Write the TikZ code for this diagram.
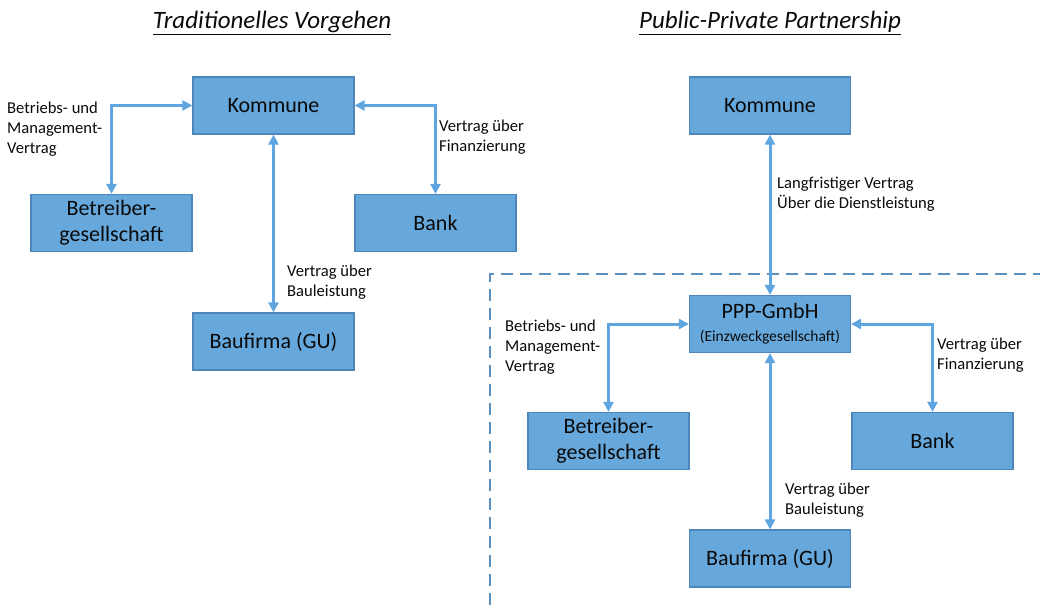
\documentclass[tikz,border=0pt]{standalone}
\usepackage{fontspec}
\setmainfont{Carlito}
\usetikzlibrary{arrows.meta}
\definecolor{boxfill}{HTML}{67A8DC}
\definecolor{boxdraw}{HTML}{4E86BC}
\definecolor{arrowc}{HTML}{5FA6E0}
\definecolor{dashc}{HTML}{5B8FBF}
\definecolor{txt}{HTML}{0A0A0A}
\tikzset{
  org/.style={draw=boxdraw, line width=1.2pt, fill=boxfill, minimum width=161pt, minimum height=57pt,
    inner sep=0pt, align=center, text=txt, font=\fontsize{22}{26}\selectfont},
  rel/.style={draw=arrowc, line width=3pt, {Triangle[length=10pt,width=10pt]}-{Triangle[length=10pt,width=10pt]}},
  lbl/.style={anchor=west, inner sep=0pt, align=left, text=txt, font=\fontsize{16.6}{20}\selectfont},
  ttl/.style={inner sep=0pt, text=txt, font=\fontsize{25}{29}\selectfont\itshape},
  frame/.style={draw=dashc, line width=1.4pt, dash pattern=on 12pt off 7pt}
}
\begin{document}
\begin{tikzpicture}[x=1pt,y=-1pt]
\useasboundingbox (0,0) rectangle (1040,612);
\clip (0,0) rectangle (1040,612);
% titles
\node[ttl] (t1) at (272,23) {\underline{Traditionelles Vorgehen}};
\node[ttl] (t2) at (770,23) {\underline{Public-Private Partnership}};
% left side
\node[org] (k1) at (273.5,105.5) {Kommune};
\node[org] (b1) at (111.5,223) {Betreiber-\\gesellschaft};
\node[org] (n1) at (435.5,223) {Bank};
\node[org] (f1) at (273.5,341.5) {Baufirma (GU)};
\draw[rel] (k1.west) -| (b1.north);
\draw[rel] (k1.east) -| (n1.north);
\draw[rel] (k1.south) -- (f1.north);
\node[lbl] (l1) at (7,129) {Betriebs- und\\Management-\\Vertrag};
\node[lbl] (l2) at (439,137) {Vertrag über\\Finanzierung};
\node[lbl] (l3) at (287,282) {Vertrag über\\Bauleistung};
% right side
\draw[frame] (1045,274) -- (490,274) -- (490,620);
\node[org] (k2) at (770,105.5) {Kommune};
\node[org] (p2) at (770,324) {PPP-GmbH\\[-3pt]{\fontsize{15.5}{18}\selectfont(Einzweckgesellschaft)}};
\node[org] (b2) at (608.5,441) {Betreiber-\\gesellschaft};
\node[org] (n2) at (932.5,441) {Bank};
\node[org] (f2) at (770,558.5) {Baufirma (GU)};
\draw[rel] (k2.south) -- (p2.north);
\draw[rel] (p2.west) -| (b2.north);
\draw[rel] (p2.east) -| (n2.north);
\draw[rel] (p2.south) -- (f2.north);
\node[lbl] (l4) at (777,194) {Langfristiger Vertrag\\Über die Dienstleistung};
\node[lbl] (l5) at (505,347) {Betriebs- und\\Management-\\Vertrag};
\node[lbl] (l6) at (937,355) {Vertrag über\\Finanzierung};
\node[lbl] (l7) at (785,500) {Vertrag über\\Bauleistung};
\end{tikzpicture}
\end{document}
